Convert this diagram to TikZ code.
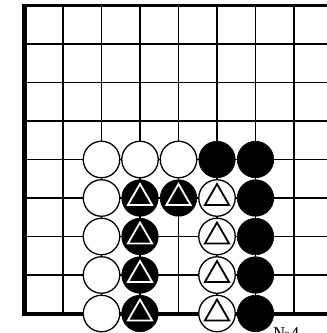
\documentclass[tikz,border=0pt]{standalone}
\usepackage{fontspec}
\setmainfont{Liberation Serif}
\usetikzlibrary{shapes.geometric}
\begin{document}
\begin{tikzpicture}[x=1pt,y=-1pt,
  gridline/.style={line width=1.3pt,black},
  wstone/.style={circle,draw=black,fill=white,line width=1.3pt,minimum size=36.5pt,inner sep=0pt},
  bstone/.style={circle,draw=black,fill=black,line width=0.6pt,minimum size=36.5pt,inner sep=0pt},
  tri/.style={regular polygon,regular polygon sides=3,minimum size=28pt,inner sep=0pt,line width=1.8pt},
  wmark/.style={tri,draw=white},
  bmark/.style={tri,draw=black}]
\useasboundingbox (0,0) rectangle (327,333);
% grid
\foreach \c in {1,...,7} \draw[gridline] ({24.5+38.5*\c},5.5) -- ({24.5+38.5*\c},313.5);
\foreach \r in {1,...,7} \draw[gridline] (24.5,{5.5+38.5*\r}) -- (327,{5.5+38.5*\r});
% edges
\draw[line width=3.2pt] (22.3,5.5) -- (327,5.5);
\draw[line width=4.5pt] (24.5,3.9) -- (24.5,315.5);
\draw[line width=4pt] (22.3,313.5) -- (327,313.5);
% stones
\foreach \c/\r in {2/4,3/4,4/4,2/5,2/6,2/7,2/8}
  \node[wstone] (w-\c-\r) at ({24.5+38.5*\c},{5.5+38.5*\r}) {};
\foreach \c/\r in {5/5,5/6,5/7,5/8}
  {\node[wstone] (w-\c-\r) at ({24.5+38.5*\c},{5.5+38.5*\r}) {};
   \node[bmark] (tw-\c-\r) at (w-\c-\r.center) {};}
\foreach \c/\r in {5/4,6/4,6/5,6/6,6/7,6/8}
  \node[bstone] (b-\c-\r) at ({24.5+38.5*\c},{5.5+38.5*\r}) {};
\foreach \c/\r in {3/5,4/5,3/6,3/7,3/8}
  {\node[bstone] (b-\c-\r) at ({24.5+38.5*\c},{5.5+38.5*\r}) {};
   \node[wmark] (tb-\c-\r) at (b-\c-\r.center) {};}
% label
\node[anchor=base west,inner sep=0pt,font=\fontsize{18}{18}\selectfont] (lbl) at (273,339) {№4};
\end{tikzpicture}
\end{document}
